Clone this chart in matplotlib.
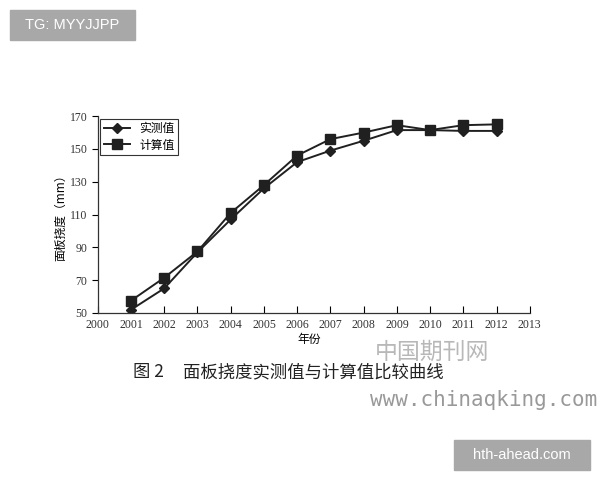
import matplotlib.pyplot as plt
from matplotlib.patches import Rectangle

plt.rcParams['font.family'] = ['Noto Sans CJK SC', 'DejaVu Sans']

years = [2001, 2002, 2003, 2004, 2005, 2006, 2007, 2008, 2009, 2010, 2011, 2012]
measured = [52, 65, 87, 107, 126, 142, 149, 155, 161.5, 161.5, 161, 161]
computed = [57.5, 71.5, 87.5, 111, 128, 146, 156, 160, 164.5, 161.5, 164.5, 165]
x_ticks = list(range(2000, 2014))
y_ticks = [50, 70, 90, 110, 130, 150, 170]

fig = plt.figure(figsize=(6, 4.8), dpi=100)
ax = fig.add_axes([0.163, 0.348, 0.72, 0.41])

ax.plot(years, measured, color='#202020', lw=1.4, marker='D', ms=5, label='实测值')
ax.plot(years, computed, color='#202020', lw=1.4, marker='s', ms=7, label='计算值')

ax.set_xlim(2000, 2013)
ax.set_ylim(50, 170)
ax.set_xticks(x_ticks)
ax.set_yticks(y_ticks)
ax.set_xticklabels([str(x) for x in x_ticks], family='Liberation Serif', fontsize=8.5, color='#333333')
ax.set_yticklabels([str(y) for y in y_ticks], family='Liberation Serif', fontsize=8.5, color='#333333')
ax.tick_params(axis='x', direction='in', length=5, width=0.8, pad=4)
ax.tick_params(axis='y', direction='out', length=4, width=0.8)
ax.spines['top'].set_visible(False)
ax.spines['right'].set_visible(False)
for s in ('left', 'bottom'):
    ax.spines[s].set_linewidth(0.9)
    ax.spines[s].set_color('#333333')

ax.text(0.49, -0.135, '年份', transform=ax.transAxes, fontsize=8.5, ha='center', va='center')
ax.set_ylabel('面板挠度（mm）', fontsize=8.5, labelpad=2)

leg = ax.legend(loc='upper left', fontsize=8.5, frameon=True, fancybox=False,
                edgecolor='black', borderaxespad=0.2, handlelength=2.2,
                borderpad=0.3, labelspacing=0.3)
leg.get_frame().set_linewidth(0.8)

fig.text(133 / 600, 1 - 372 / 480, '图 2', fontsize=12.5, color='#222222', va='center')
fig.text(183 / 600, 1 - 372 / 480, '面板挠度实测值与计算值比较曲线', fontsize=12.5,
         color='#222222', va='center')
fig.text(375 / 600, 1 - 352 / 480, '中国期刊网', fontsize=16.5, color='#b8b8b8',
         va='center', fontweight='light')
fig.text(370 / 600, 1 - 400 / 480, 'www.chinaqking.com', fontsize=15, color='#999999',
         va='center', family='DejaVu Sans Mono')

fig.patches.append(Rectangle((10 / 600, 1 - 40 / 480), 125 / 600, 30 / 480,
                             transform=fig.transFigure, color='#a8a8a8', zorder=5))
fig.text(72 / 600, 1 - 25 / 480, 'TG: MYYJJPP', color='white', fontsize=10.5,
         ha='center', va='center', zorder=6, family='Liberation Sans')
fig.patches.append(Rectangle((454 / 600, 1 - 470 / 480), 136 / 600, 30 / 480,
                             transform=fig.transFigure, color='#a8a8a8', zorder=5))
fig.text(522 / 600, 1 - 455 / 480, 'hth-ahead.com', color='white', fontsize=10.5,
         ha='center', va='center', zorder=6, family='Liberation Sans')

fig.savefig('out.png', dpi=100)
